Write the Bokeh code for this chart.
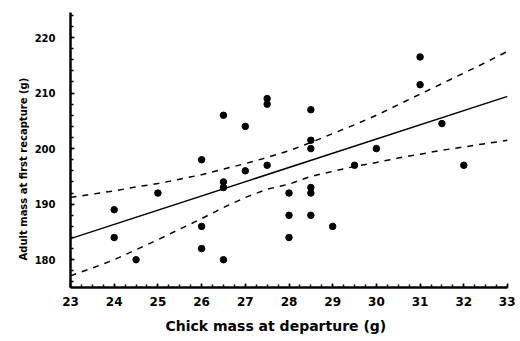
from bokeh.plotting import figure
from bokeh.models import Range1d, SingleIntervalTicker, Title
from bokeh.embed import file_html
from bokeh.resources import INLINE

chick_mass = [24, 24, 24.5, 25, 26, 26, 26, 26.5, 26.5, 26.5, 26.5, 27, 27,
              27.5, 27.5, 27.5, 28, 28, 28, 28.5, 28.5, 28.5, 28.5, 28.5, 28.5,
              29, 29.5, 30, 31, 31, 31.5, 32]
adult_mass = [189, 184, 180, 192, 198, 186, 182, 206, 194, 193, 180, 204, 196,
              209, 208, 197, 192, 188, 184, 207, 201.5, 200, 193, 192, 188,
              186, 197, 200, 216.5, 211.5, 204.5, 197]

fit_x = [23, 33]
fit_y = [183.8, 209.4]

band_x = [23, 23.5, 24, 24.5, 25, 25.5, 26, 26.5, 27, 27.5, 28, 28.5, 29,
          29.5, 30, 30.5, 31, 31.5, 32, 32.5, 33]
band_upper = [191.2, 191.8, 192.4, 193.1, 193.7, 194.5, 195.3, 196.3, 197.3,
              198.4, 199.6, 201.1, 202.7, 204.3, 206.0, 207.9, 209.8, 211.7,
              213.6, 215.5, 217.5]
band_lower = [177.1, 178.5, 180.0, 181.8, 183.6, 185.5, 187.4, 189.4, 191.2,
              192.7, 193.6, 195.0, 195.9, 196.8, 197.5, 198.3, 199.0, 199.7,
              200.3, 200.9, 201.5]

x_title = "Chick mass at departure (g)"
y_title = "Adult mass at first recapture (g)"

FONT = "DejaVu Sans"

p = figure(width=515, height=341, output_backend="svg", toolbar_location=None,
           x_range=Range1d(23, 33), y_range=Range1d(175, 224.5),
           min_border_left=70, min_border_right=8, min_border_top=12,
           min_border_bottom=54)
p.outline_line_color = None
p.xgrid.visible = False
p.ygrid.visible = False

p.scatter(chick_mass, adult_mass, size=6.5, color="black")
p.line(fit_x, fit_y, line_color="black", line_width=1.5)
p.line(band_x, band_upper, line_color="black", line_width=1.5, line_dash="6 6")
p.line(band_x, band_lower, line_color="black", line_width=1.5, line_dash="6 6")

p.xaxis.ticker = SingleIntervalTicker(interval=1, num_minor_ticks=4)
p.yaxis.ticker = SingleIntervalTicker(interval=10, num_minor_ticks=5)

for ax in (p.xaxis[0], p.yaxis[0]):
    ax.axis_line_width = 2.5
    ax.axis_line_color = "black"
    ax.major_tick_in = 4
    ax.major_tick_out = 0
    ax.minor_tick_in = 3
    ax.minor_tick_out = 0
    ax.major_tick_line_width = 1.5
    ax.minor_tick_line_width = 1.5
    ax.major_label_text_font = FONT
    ax.major_label_text_font_style = "bold"
    ax.major_label_text_color = "black"

p.xaxis.major_label_text_font_size = "12px"
p.xaxis.major_label_standoff = 9
p.yaxis.major_label_text_font_size = "10px"
p.yaxis.major_label_standoff = 15

# axis titles, slightly off-centre as in the original
p.add_layout(Title(text=x_title, align="left", offset=95, standoff=15,
                   text_font=FONT, text_font_style="bold",
                   text_font_size="14px", text_color="black"), "below")
p.add_layout(Title(text=y_title, align="left", offset=27, standoff=6,
                   text_font=FONT, text_font_style="bold",
                   text_font_size="10px", text_color="black"), "left")

open("out.html", "w").write(file_html(p, INLINE))
